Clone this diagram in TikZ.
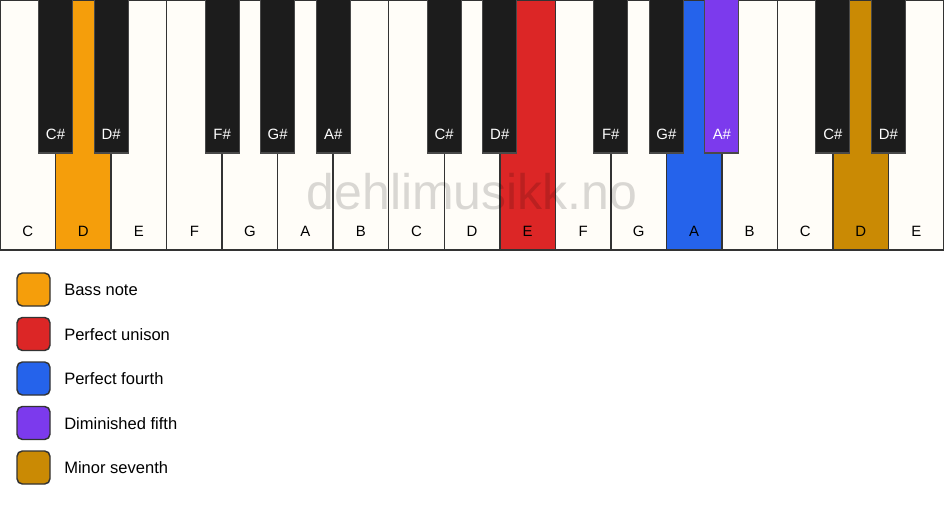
\documentclass[tikz,border=0pt]{standalone}
\usepackage{fontspec}
\setmainfont{Liberation Sans}
\definecolor{ivory}{HTML}{FFFDF8}
\definecolor{keyblack}{HTML}{1C1C1C}
\definecolor{keyline}{HTML}{333333}
\definecolor{bassnote}{HTML}{F59E0B}
\definecolor{unison}{HTML}{DC2626}
\definecolor{fourth}{HTML}{2563EB}
\definecolor{dimfifth}{HTML}{7C3AED}
\definecolor{minseventh}{HTML}{CA8A04}
\tikzset{
  whitekey/.style={draw=keyline,line width=1.1pt},
  blackkey/.style={draw=keyblack!80!white,line width=0.8pt},
  keylabel/.style={font=\fontsize{11.2}{13}\selectfont,text=black},
  sharplabel/.style={font=\fontsize{11.2}{13}\selectfont,text=white},
  legendbox/.style={draw=keyline,line width=1.1pt,rounded corners=4pt,minimum width=24.75pt,minimum height=24.75pt,inner sep=0pt},
  legendtext/.style={anchor=west,font=\fontsize{12.4}{14}\selectfont,inner sep=0pt}
}
\begin{document}
\begin{tikzpicture}[x=0.75pt,y=-0.75pt]
\useasboundingbox (0,0) rectangle (944,506);
\fill[white] (0,0) rectangle (944,506);
\pgfmathsetmacro{\kw}{944/17}

% White keys
\foreach \i/\n/\c in {0/C/ivory,1/D/bassnote,2/E/ivory,3/F/ivory,4/G/ivory,5/A/ivory,6/B/ivory,
  7/C/ivory,8/D/ivory,9/E/unison,10/F/ivory,11/G/ivory,12/A/fourth,13/B/ivory,
  14/C/ivory,15/D/minseventh,16/E/ivory}{
  \draw[whitekey,fill=\c] ({\i*\kw},0) rectangle ({(\i+1)*\kw},250);
  \node[keylabel] (w\i) at ({(\i+0.5)*\kw},231) {\n};
}

% Watermark
\node[font=\fontsize{37.5}{42}\selectfont,text=black,text opacity=0.15] (mark) at (472,192) {dehlimusikk.no};

% Black keys
\foreach \j/\n/\c in {1/C\#/keyblack,2/D\#/keyblack,4/F\#/keyblack,5/G\#/keyblack,6/A\#/keyblack,
  8/C\#/keyblack,9/D\#/keyblack,11/F\#/keyblack,12/G\#/keyblack,13/A\#/dimfifth,
  15/C\#/keyblack,16/D\#/keyblack}{
  \draw[blackkey,fill=\c] ({\j*\kw-17},-2) rectangle ({\j*\kw+17},153);
  \node[sharplabel] (b\j) at ({\j*\kw},134) {\n};
}

% Legend
\foreach \k/\c/\t [count=\r from 0] in {bass/bassnote/Bass note,uni/unison/Perfect unison,
  four/fourth/Perfect fourth,dim/dimfifth/Diminished fifth,sev/minseventh/Minor seventh}{
  \node[legendbox,fill=\c] (box\k) at (33.5,{289.5+\r*44.5}) {};
  \node[legendtext] (txt\k) at (64,{290+\r*44.5}) {\t};
}
\end{tikzpicture}
\end{document}
